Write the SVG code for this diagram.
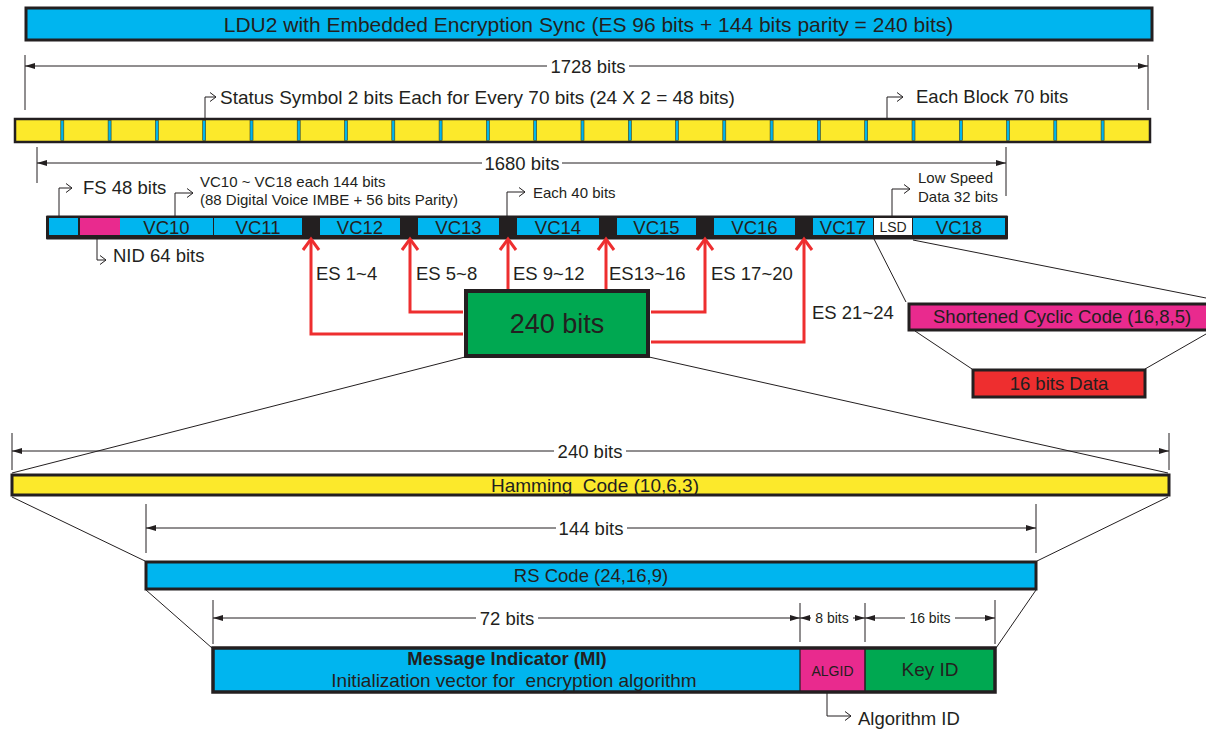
<svg xmlns="http://www.w3.org/2000/svg" xmlns:xlink="http://www.w3.org/1999/xlink" width="1206" height="730" viewBox="0 0 1206 730">
<style>
text{font-family:"Liberation Sans",Arial,sans-serif;fill:#231F20}
.t21{font-size:21px}.t18{font-size:18.5px}.t19{font-size:19px}.t15{font-size:15px}.t14{font-size:14px}
.mid{text-anchor:middle}
.box{stroke:#231F20;stroke-width:3}
.blue{fill:#00B5EF}.yel{fill:#FCE92B}.pink{fill:#E92A8E}.grn{fill:#00A851}.red{fill:#EE2E2F}
.thin{stroke:#231F20;stroke-width:1;fill:none}
.dim{stroke:#231F20;stroke-width:1;fill:none}
.ld{stroke:#231F20;stroke-width:1;fill:none;marker-end:url(#open)}
.rl{stroke:#EE2E2F;stroke-width:3;fill:none;marker-end:url(#rh)}
.pre{white-space:pre}
</style>
<defs>
<marker id="fa" markerUnits="userSpaceOnUse" markerWidth="12" markerHeight="8" refX="10" refY="4" orient="auto-start-reverse" viewBox="0 0 12 8"><path d="M0,1 L10,4 L0,7 Z" fill="#231F20"/></marker>
<marker id="open" markerUnits="userSpaceOnUse" markerWidth="10" markerHeight="12" refX="8" refY="6" orient="auto" viewBox="0 0 10 12"><path d="M2,1.5 L8,6 L2,10.5" fill="none" stroke="#231F20" stroke-width="1"/></marker>
<marker id="rh" markerUnits="userSpaceOnUse" markerWidth="16" markerHeight="22" refX="13" refY="11" orient="auto" viewBox="0 0 16 22"><path d="M2,3 L13,11 L2,19" fill="none" stroke="#EE2E2F" stroke-width="3"/></marker>
<rect id="sep" x="-1.5" y="120.5" width="3" height="20" fill="#00B5EF" stroke="#3b3a1e" stroke-width="0.6"/>
</defs>
<rect width="1206" height="730" fill="#fff"/>

<g id="ldu2">
<rect x="26" y="8" width="1126" height="32" class="box blue"/>
<text x="588.5" y="31.5" class="t21 mid">LDU2 with Embedded Encryption Sync (ES 96 bits + 144 bits parity = 240 bits)</text>
</g>

<g id="dim1728">
<line x1="25" y1="55" x2="25" y2="110" class="dim"/>
<line x1="1148" y1="55" x2="1148" y2="110" class="dim"/>
<line x1="25" y1="66" x2="547" y2="66" class="dim" marker-start="url(#fa)"/>
<line x1="629" y1="66" x2="1148" y2="66" class="dim" marker-end="url(#fa)"/>
<text x="588" y="72.5" class="t18 mid">1728 bits</text>
</g>

<g id="status-note">
<path d="M205,119 V97 H216" class="ld"/>
<text x="220" y="104" class="t19">Status Symbol 2 bits Each for Every 70 bits (24 X 2 = 48 bits)</text>
</g>
<g id="block-note">
<path d="M887,119 V97 H903" class="ld"/>
<text x="916" y="103" class="t18">Each Block 70 bits</text>
</g>

<g id="yellow-row">
<rect x="15" y="119" width="1135" height="23" class="yel" stroke="#231F20" stroke-width="2.5"/>
<use xlink:href="#sep" x="62.3"/><use xlink:href="#sep" x="109.6"/><use xlink:href="#sep" x="156.9"/><use xlink:href="#sep" x="204.2"/>
<use xlink:href="#sep" x="251.5"/><use xlink:href="#sep" x="298.7"/><use xlink:href="#sep" x="346"/><use xlink:href="#sep" x="393.3"/>
<use xlink:href="#sep" x="440.6"/><use xlink:href="#sep" x="487.9"/><use xlink:href="#sep" x="535.2"/><use xlink:href="#sep" x="582.5"/>
<use xlink:href="#sep" x="629.8"/><use xlink:href="#sep" x="677"/><use xlink:href="#sep" x="724.3"/><use xlink:href="#sep" x="771.6"/>
<use xlink:href="#sep" x="818.9"/><use xlink:href="#sep" x="866.2"/><use xlink:href="#sep" x="913.5"/><use xlink:href="#sep" x="960.8"/>
<use xlink:href="#sep" x="1008"/><use xlink:href="#sep" x="1055.3"/><use xlink:href="#sep" x="1102.6"/>
</g>

<g id="dim1680">
<line x1="37" y1="147" x2="37" y2="183" class="dim"/>
<line x1="1006" y1="147" x2="1006" y2="196" class="dim"/>
<line x1="37" y1="163" x2="482" y2="163" class="dim" marker-start="url(#fa)"/>
<line x1="562" y1="163" x2="1006" y2="163" class="dim" marker-end="url(#fa)"/>
<text x="522" y="169.5" class="t18 mid">1680 bits</text>
</g>

<g id="notes-vc">
<path d="M59,216 V188 H72" class="ld"/>
<text x="83" y="194" class="t18">FS 48 bits</text>
<path d="M175,216 V193 H193" class="ld"/>
<text x="200" y="187" class="t15">VC10 ~ VC18 each 144 bits</text>
<text x="200" y="205" class="t15">(88 Digital Voice IMBE + 56 bits Parity)</text>
<path d="M507,216 V192 H525" class="ld"/>
<text x="533" y="198" class="t15">Each 40 bits</text>
<path d="M892,216 V189 H910" class="ld"/>
<text x="918" y="183" class="t15">Low Speed</text>
<text x="918" y="202" class="t15">Data 32 bits</text>
<path d="M97,239 V260 H106" class="ld"/>
<text x="113" y="262" class="t18">NID 64 bits</text>
</g>

<g id="vc-row">
<rect x="46" y="215.5" width="962" height="24" fill="#231F20" rx="1"/>
<rect x="49" y="218" width="29" height="17" class="blue"/>
<rect x="80" y="218" width="40" height="17" class="pink"/>
<rect x="120" y="218" width="93" height="17" class="blue"/>
<rect x="214" y="218" width="88" height="17" class="blue"/>
<rect x="320" y="218" width="80" height="17" class="blue"/>
<rect x="418" y="218" width="81" height="17" class="blue"/>
<rect x="517" y="218" width="82" height="17" class="blue"/>
<rect x="617" y="218" width="79" height="17" class="blue"/>
<rect x="714" y="218" width="81" height="17" class="blue"/>
<rect x="813" y="218" width="60" height="17" class="blue"/>
<rect x="874" y="218" width="38" height="17" fill="#fff"/>
<rect x="913" y="218" width="92" height="17" class="blue"/>
<g class="t18 mid">
<text x="166.5" y="233.5">VC10</text>
<text x="258" y="233.5">VC11</text>
<text x="360" y="233.5">VC12</text>
<text x="458.5" y="233.5">VC13</text>
<text x="558" y="233.5">VC14</text>
<text x="656.5" y="233.5">VC15</text>
<text x="754.5" y="233.5">VC16</text>
<text x="843" y="233.5">VC17</text>
<text x="959" y="233.5">VC18</text>
</g>
<text x="893" y="232" class="t14 mid">LSD</text>
</g>

<g id="connectors">
<path d="M463,334 H311 V239" class="rl"/>
<path d="M463,312 H410 V239" class="rl"/>
<path d="M508,289 V239" class="rl"/>
<path d="M606,289 V239" class="rl"/>
<path d="M651,312 H705 V239" class="rl"/>
<path d="M651,342 H804 V239" class="rl"/>
<line x1="874" y1="239" x2="906" y2="302" class="thin"/>
<line x1="913" y1="240" x2="1206" y2="298" class="thin"/>
<line x1="915" y1="331" x2="972" y2="369" class="thin"/>
<line x1="1206" y1="334" x2="1145" y2="369" class="thin"/>
<line x1="465" y1="357" x2="12" y2="473" class="thin"/>
<line x1="649" y1="357" x2="1168" y2="473" class="thin"/>
<line x1="12" y1="497" x2="145" y2="561" class="thin"/>
<line x1="1168" y1="497" x2="1037" y2="561" class="thin"/>
<line x1="146" y1="590" x2="212" y2="648" class="thin"/>
<line x1="1036" y1="590" x2="996" y2="648" class="thin"/>
</g>

<g id="es-labels" class="t18">
<text x="316" y="280">ES 1~4</text>
<text x="416" y="280">ES 5~8</text>
<text x="513" y="280">ES 9~12</text>
<text x="609" y="280">ES13~16</text>
<text x="711" y="280">ES 17~20</text>
<text x="812" y="319">ES 21~24</text>
</g>

<g id="es240">
<rect x="466" y="291" width="182" height="65" class="grn" stroke="#231F20" stroke-width="4"/>
<text x="557" y="333" class="mid" style="font-size:27px">240 bits</text>
</g>

<g id="shortened">
<rect x="909" y="304" width="302" height="26" class="box pink"/>
<text x="933" y="323" class="t18">Shortened Cyclic Code (16,8,5)</text>
</g>
<g id="data16">
<rect x="973" y="370" width="172" height="27" class="box red"/>
<text x="1059" y="390" class="t18 mid">16 bits Data</text>
</g>

<g id="dim240">
<line x1="12" y1="433" x2="12" y2="470" class="dim"/>
<line x1="1169" y1="433" x2="1169" y2="470" class="dim"/>
<line x1="12" y1="451" x2="554" y2="451" class="dim" marker-start="url(#fa)"/>
<line x1="626" y1="451" x2="1169" y2="451" class="dim" marker-end="url(#fa)"/>
<text x="590" y="457.5" class="t18 mid">240 bits</text>
</g>

<g id="hamming">
<rect x="12" y="475" width="1157" height="20" class="box yel"/>
<text x="595" y="491.5" class="mid pre" style="font-size:19px">Hamming  Code (10,6,3)</text>
</g>

<g id="dim144">
<line x1="146" y1="504" x2="146" y2="553" class="dim"/>
<line x1="1036" y1="504" x2="1036" y2="553" class="dim"/>
<line x1="146" y1="528" x2="556" y2="528" class="dim" marker-start="url(#fa)"/>
<line x1="627" y1="528" x2="1036" y2="528" class="dim" marker-end="url(#fa)"/>
<text x="591" y="534.5" class="t18 mid">144 bits</text>
</g>

<g id="rs">
<rect x="146" y="562" width="890" height="27" class="box blue"/>
<text x="591" y="582" class="mid" style="font-size:18.5px">RS Code (24,16,9)</text>
</g>

<g id="dim-mi">
<line x1="213" y1="600" x2="213" y2="644" class="dim"/>
<line x1="800" y1="603" x2="800" y2="642" class="dim"/>
<line x1="865" y1="603" x2="865" y2="642" class="dim"/>
<line x1="995" y1="600" x2="995" y2="644" class="dim"/>
<line x1="213" y1="618" x2="476" y2="618" class="dim" marker-start="url(#fa)"/>
<line x1="538" y1="618" x2="800" y2="618" class="dim" marker-end="url(#fa)"/>
<text x="507" y="624.5" class="t18 mid">72 bits</text>
<line x1="800" y1="618" x2="811" y2="618" class="dim" marker-start="url(#fa)"/>
<line x1="853" y1="618" x2="865" y2="618" class="dim" marker-end="url(#fa)"/>
<text x="832" y="623" class="t14 mid">8 bits</text>
<line x1="865" y1="618" x2="905" y2="618" class="dim" marker-start="url(#fa)"/>
<line x1="955" y1="618" x2="995" y2="618" class="dim" marker-end="url(#fa)"/>
<text x="930" y="623" class="t14 mid">16 bits</text>
</g>

<g id="mi">
<rect x="213" y="648" width="587" height="44" class="blue"/>
<text x="507" y="665" class="mid" style="font-size:18.5px;font-weight:bold">Message Indicator (MI)</text>
<text x="514" y="687" class="mid pre" style="font-size:19px">Initialization vector for  encryption algorithm</text>
</g>
<g id="algid">
<rect x="800" y="648" width="65" height="44" class="pink"/>
<text x="832.5" y="676" class="t14 mid">ALGID</text>
</g>
<g id="keyid">
<rect x="865" y="648" width="130" height="44" class="grn"/>
<text x="930" y="675.5" class="mid" style="font-size:19px">Key ID</text>
</g>
<g id="mi-frame">
<line x1="800" y1="648" x2="800" y2="692" stroke="#231F20" stroke-width="1.2"/>
<line x1="865" y1="648" x2="865" y2="692" stroke="#231F20" stroke-width="1.5"/>
<rect x="213" y="648" width="782" height="44" fill="none" stroke="#231F20" stroke-width="3.5"/>
</g>
<g id="algid-note">
<path d="M827,693 V716 H851" class="ld"/>
<text x="858" y="725" class="t18">Algorithm ID</text>
</g>
</svg>
